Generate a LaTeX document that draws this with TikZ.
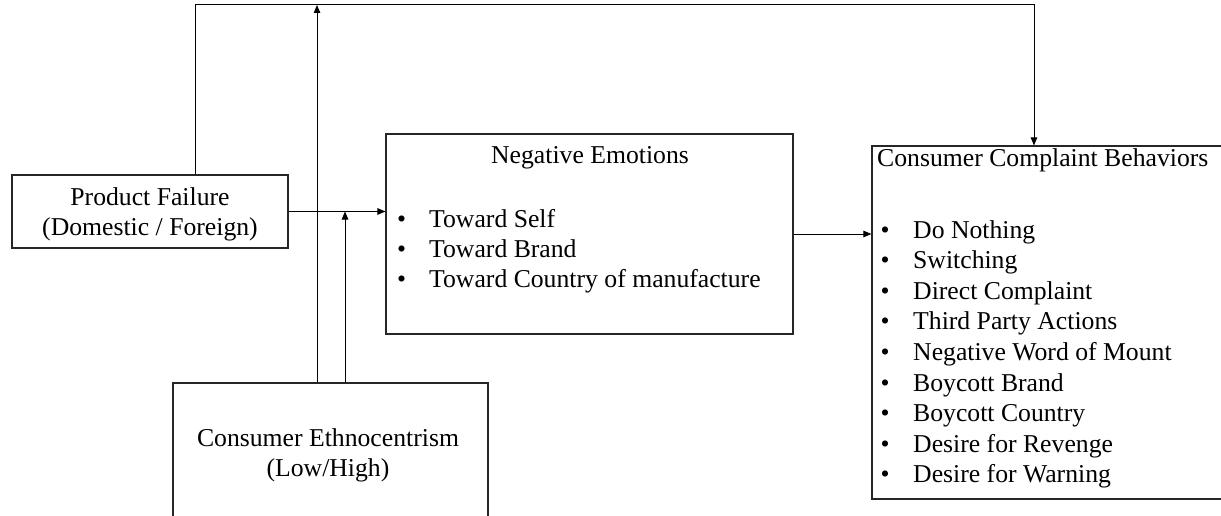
\documentclass[tikz,border=0pt]{standalone}
\usepackage{fontspec}
\setmainfont{Liberation Serif}
\usetikzlibrary{arrows.meta}
\tikzset{
  box/.style={draw=black!85, line width=1.1pt, rectangle, inner sep=0pt, fill=none},
  txt/.style={inner sep=0pt, font=\fontsize{25.7}{30.5}\selectfont},
  conn/.style={draw=black, line width=1pt},
  arr/.style={conn, -{Triangle[length=8pt,width=6.5pt]}},
}
\begin{document}
\begin{tikzpicture}[x=1pt,y=-1pt]
\useasboundingbox (0,0) rectangle (1221,516);
\clip (0,0) rectangle (1221,516);
% boxes
\node[box, minimum width=276pt, minimum height=73pt] (pf) at (150,211.5) {};
\node[box, minimum width=407pt, minimum height=200pt] (ne) at (589.5,234) {};
\node[box, minimum width=368pt, minimum height=353pt] (ccb) at (1056,322.5) {};
\node[box, minimum width=315pt, minimum height=136pt] (ce) at (330.5,451) {};
% texts: product failure
\node[txt, anchor=base] (pf1) at (150,205.5) {Product Failure};
\node[txt, anchor=base] (pf2) at (150,235.5) {(Domestic / Foreign)};
% consumer ethnocentrism
\node[txt, anchor=base] (ce1) at (328,446) {Consumer Ethnocentrism};
\node[txt, anchor=base] (ce2) at (328,476) {(Low/High)};
% negative emotions
\node[txt, anchor=base] (net) at (590,164) {Negative Emotions};
\foreach \t [count=\i] in {Toward Self,Toward Brand,Toward Country of manufacture}{
  \node[txt, anchor=base] (neb\i) at (401.5,{227+30*(\i-1)}) {•};
  \node[txt, anchor=base west] (ne\i) at (429,{227+30*(\i-1)}) {\t};
}
% consumer complaint behaviors
\node[txt, anchor=base west] (ccbt) at (877,167) {Consumer Complaint Behaviors};
\foreach \t [count=\i] in {Do Nothing,Switching,Direct Complaint,Third Party Actions,Negative Word of Mount,Boycott Brand,Boycott Country,Desire for Revenge,Desire for Warning}{
  \node[txt, anchor=base] (ccbb\i) at (885,{238+30.6*(\i-1)}) {•};
  \node[txt, anchor=base west] (ccb\i) at (913,{238+30.6*(\i-1)}) {\t};
}
% connector coordinates
\coordinate (tl) at (195,5);
\coordinate (tr) at (1034,5);
\coordinate (c1) at (317,5);
\coordinate (c2) at (345,211.5);
% connectors
\draw[arr] (tl |- pf.north) -- (tl) -- (tr) -- (tr |- ccb.north);
\draw[arr] (c1 |- ce.north) -- (c1);
\draw[arr] (c2 |- ce.north) -- (c2);
\draw[arr] (pf.east) -- (ne.west |- pf.east);
\draw[arr] (ne.east) -- (ccb.west |- ne.east);
\end{tikzpicture}
\end{document}
